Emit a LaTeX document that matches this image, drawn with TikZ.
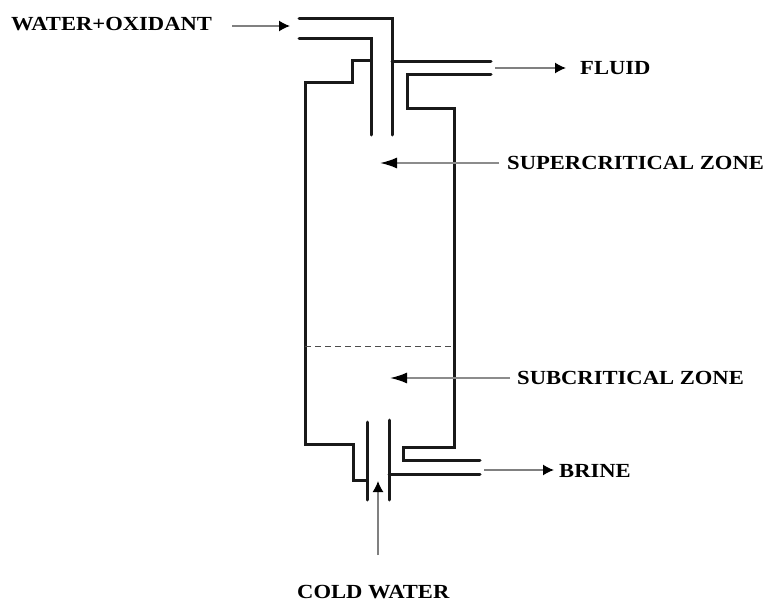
\documentclass[tikz,border=0pt]{standalone}
\usepackage{fontspec}
\setmainfont[FakeStretch=1.13]{Liberation Serif}
\usetikzlibrary{arrows.meta}
\tikzstyle{tag}=[inner sep=0pt, anchor=west, font=\fontsize{20}{22}\selectfont\bfseries]
\tikzstyle{wall}=[-, line width=3pt, black!90, line cap=round, line join=miter]
\tikzstyle{flow}=[line width=1.5pt, black!50, -{Latex[black, length=11pt, width=11pt]}]
\tikzstyle{flowlong}=[line width=1.8pt, black!45, -{Latex[black, length=17pt, width=11pt]}]

\begin{document}
\begin{tikzpicture}[x=1pt, y=-1pt]
    \useasboundingbox (0, 0) rectangle (766, 602);

    \node [tag] (feed) at (11, 24) {WATER+OXIDANT};
    \node [tag] (fluid) at (580, 68) {FLUID};
    \node [tag] (super) at (507, 163) {SUPERCRITICAL ZONE};
    \node [tag] (sub) at (517, 378) {SUBCRITICAL ZONE};
    \node [tag] (brine) at (559, 471) {BRINE};
    \node [tag] (cold) at (297, 592) {COLD WATER};

    % free ends of the arrows
    \coordinate (feedin) at (290, 26);
    \coordinate (fluidout) at (495, 68);
    \coordinate (superin) at (380, 163);
    \coordinate (subin) at (390, 378);
    \coordinate (brineout) at (484, 470);
    \coordinate (coldin) at (378, 481);

    % top pipes
    \draw [wall] (299, 19) -- (392, 19) -- (392, 135);
    \draw [wall] (299, 39) -- (371, 39) -- (371, 135);
    \draw [wall] (392, 62) -- (491, 62);
    \draw [wall] (491, 75) -- (407, 75) -- (407, 108) -- (454, 108) -- (454, 447) -- (403, 447) -- (403, 460) -- (480, 460);
    \draw [wall] (371, 61) -- (352, 61) -- (352, 83) -- (305, 83) -- (305, 444) -- (353, 444) -- (353, 480) -- (367, 480);

    % bottom pipes
    \draw [wall] (367, 422) -- (367, 500);
    \draw [wall] (389, 420) -- (389, 500);
    \draw [wall] (389, 474) -- (480, 474);

    \draw [line width=1pt, black!70, dash pattern=on 6pt off 4pt] (305, 346) -- (454, 346);

    \draw [flow, shorten <=20pt] (feed.east |- feedin) -- (feedin);
    \draw [flow, shorten >=14pt] (fluidout) -- (fluid.west |- fluidout);
    \draw [flowlong, shorten <=8pt] (super.west) -- (superin);
    \draw [flowlong, shorten <=7pt] (sub.west) -- (subin);
    \draw [flow, shorten >=5pt] (brineout) -- (brine.west |- brineout);
    \draw [flow, shorten <=30pt] (cold.north -| coldin) -- (coldin);
\end{tikzpicture}
\end{document}
